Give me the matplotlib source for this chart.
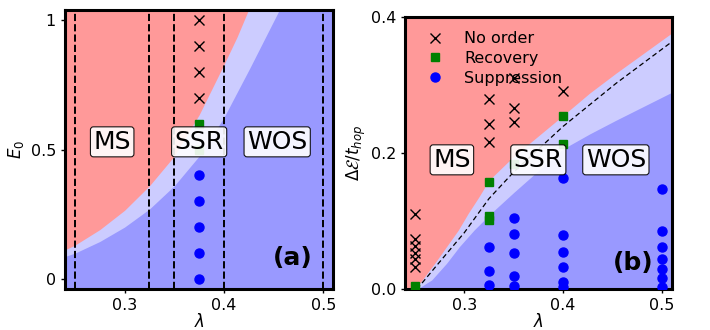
import matplotlib
matplotlib.use("Agg")
import matplotlib.pyplot as plt

# ---- panel (a): E0 vs lambda ----
lam_red_a = [0.24, 0.25, 0.275, 0.3, 0.325, 0.35, 0.375, 0.4, 0.413, 0.4245]
E_red_a = [0.112, 0.13, 0.19, 0.265, 0.36, 0.475, 0.635, 0.83, 0.935, 1.04]
lam_lb_a = [0.24, 0.25, 0.275, 0.3, 0.325, 0.35, 0.375, 0.4, 0.426, 0.4555]
E_lb_a = [0.086, 0.099, 0.144, 0.2, 0.27, 0.36, 0.475, 0.625, 0.816, 1.04]
vlines_a = [0.25, 0.325, 0.35, 0.4, 0.5]

lam_pts_a = 0.375
E_noorder_a = [1.0, 0.9, 0.8, 0.7]
E_recovery_a = [0.6, 0.5]
E_suppr_a = [0.4, 0.3, 0.2, 0.1, 0.0]

# ---- panel (b): gap vs lambda ----
lam_red_b = [0.24, 0.25, 0.255, 0.27, 0.282, 0.294, 0.304, 0.315, 0.325, 0.35, 0.4, 0.427, 0.4535, 0.51]
D_red_b = [0.0, 0.0, 0.009, 0.038, 0.0625, 0.087, 0.1115, 0.136, 0.16, 0.195, 0.255, 0.288, 0.317, 0.376]
lam_lb_b = [0.252, 0.267, 0.282, 0.295, 0.31, 0.327, 0.35, 0.4, 0.427, 0.4535, 0.51]
D_lb_b = [0.0, 0.0137, 0.038, 0.0625, 0.087, 0.1115, 0.142, 0.206, 0.228, 0.248, 0.289]
lam_dash_b = [0.252, 0.275, 0.3, 0.325, 0.35, 0.4, 0.4535, 0.51]
D_dash_b = [0.0, 0.04, 0.083, 0.133, 0.172, 0.239, 0.302, 0.363]

lam_noorder_b = [0.25] * 6 + [0.325] * 3 + [0.35] * 3 + [0.4]
D_noorder_b = [0.111, 0.074, 0.064, 0.054, 0.044, 0.033,
               0.279, 0.243, 0.216,
               0.31, 0.266, 0.245,
               0.291]
lam_recovery_b = [0.25, 0.325, 0.325, 0.325, 0.35, 0.4, 0.4]
D_recovery_b = [0.005, 0.158, 0.108, 0.101, 0.184, 0.254, 0.213]
lam_suppr_b = [0.325] * 3 + [0.35] * 5 + [0.4] * 6 + [0.5] * 7
D_suppr_b = [0.062, 0.027, 0.007,
             0.105, 0.081, 0.053, 0.019, 0.005,
             0.163, 0.079, 0.055, 0.033, 0.010, 0.004,
             0.147, 0.085, 0.062, 0.045, 0.030, 0.017, 0.004]

region_labels = ["MS", "SSR", "WOS"]
region_lam = [0.2875, 0.375, 0.4535]

RED = "#ff9999"
LBLUE = "#ccccff"
BLUE = "#9999ff"

fig = plt.figure(figsize=(7.1, 3.3), dpi=100)
ax1 = fig.add_axes([0.0915, 0.1242, 0.378, 0.845])
ax2 = fig.add_axes([0.5704, 0.1233, 0.3756, 0.826])

box = dict(boxstyle="round,pad=0.12", facecolor="white", edgecolor="black",
           linewidth=0.8, alpha=0.9)


def style_axes(ax):
    ax.set_facecolor(BLUE)
    for sp in ax.spines.values():
        sp.set_linewidth(2.2)
    ax.tick_params(direction="out", length=3, width=1, labelsize=11.5)
    ax.set_xlim(0.24, 0.51)
    ax.set_xticks([0.3, 0.4, 0.5])
    ax.set_xticklabels(["0.3", "0.4", "0.5"])
    ax.set_xlabel(r"$\lambda$", fontsize=12, labelpad=0)


# panel (a)
style_axes(ax1)
top_a = 1.04
ax1.set_ylim(-0.04, top_a)
ax1.fill_between(lam_lb_a, E_lb_a, top_a, color=LBLUE, lw=0, zorder=0.5)
ax1.fill_between(lam_red_a, E_red_a, top_a, color=RED, lw=0, zorder=0.6)
for v in vlines_a:
    ax1.axvline(v, color="black", ls="--", lw=1.4, zorder=2)
ax1.plot([lam_pts_a] * len(E_noorder_a), E_noorder_a, "x", color="black",
         ms=6.5, mew=1.0, ls="none", zorder=3)
ax1.plot([lam_pts_a] * len(E_recovery_a), E_recovery_a, "s", color="green",
         ms=6, ls="none", zorder=3)
ax1.plot([lam_pts_a] * len(E_suppr_a), E_suppr_a, "o", color="blue",
         ms=6.5, ls="none", zorder=3)
for name, x in zip(region_labels, region_lam):
    ax1.text(x, 0.53, name, fontsize=18, ha="center", va="center",
             bbox=box, zorder=4)
ax1.set_yticks([0, 0.5, 1])
ax1.set_yticklabels(["0", "0.5", "1"])
ax1.set_ylabel(r"$E_0$", fontsize=12, labelpad=3)
ax1.text(0.85, 0.11, "(a)", transform=ax1.transAxes, fontsize=18,
         fontweight="bold", ha="center", va="center", zorder=5)

# panel (b)
style_axes(ax2)
top_b = 0.4
ax2.set_ylim(0, top_b)
ax2.fill_between(lam_lb_b, D_lb_b, top_b, color=LBLUE, lw=0, zorder=0.5)
ax2.fill_between(lam_red_b, D_red_b, top_b, color=RED, lw=0, zorder=0.6)
ax2.plot(lam_dash_b, D_dash_b, color="black", ls="--", lw=0.9,
         dashes=(4, 2.5), zorder=2)
ax2.plot(lam_noorder_b, D_noorder_b, "x", color="black", ms=6.5, mew=1.0,
         ls="none", zorder=3, label="No order")
ax2.plot(lam_recovery_b, D_recovery_b, "s", color="green", ms=6,
         ls="none", zorder=3, label="Recovery")
ax2.plot(lam_suppr_b, D_suppr_b, "o", color="blue", ms=6.5,
         ls="none", zorder=3, label="Suppression")
for name, x in zip(region_labels, region_lam):
    ax2.text(x, 0.19, name, fontsize=18, ha="center", va="center",
             bbox=box, zorder=4)
ax2.set_yticks([0.0, 0.2, 0.4])
ax2.set_yticklabels(["0.0", "0.2", "0.4"])
ax2.set_ylabel(r"$\Delta\mathcal{E}/t_{hop}$", fontsize=12, labelpad=2)
leg = ax2.legend(loc="upper left", frameon=False, fontsize=11.5,
                 labelspacing=0.3)
leg.set_zorder(2.5)
ax2.text(0.855, 0.095, "(b)", transform=ax2.transAxes, fontsize=18,
         fontweight="bold", ha="center", va="center", zorder=5)

fig.savefig("out.png", dpi=100)
